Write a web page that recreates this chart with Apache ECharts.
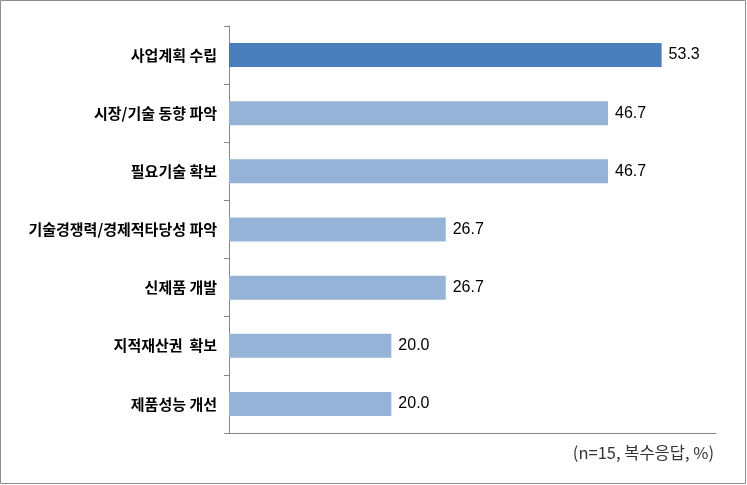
<!DOCTYPE html>
<html><head><meta charset="utf-8">
<script src="https://cdn.jsdelivr.net/npm/echarts@6/dist/echarts.min.js"></script>
<style>html,body{margin:0;padding:0;background:#fff}#c{width:747px;height:485px}</style>
</head><body><div id="c"></div>
<script>
const categories = ['사업계획 수립','시장/기술 동향 파악','필요기술 확보','기술경쟁력/경제적타당성 파악','신제품 개발','지적재산권  확보','제품성능 개선'];
const values = [53.3, 46.7, 46.7, 26.7, 26.7, 20.0, 20.0];
const note = '(n=15, 복수응답, %)';

const chart = echarts.init(document.getElementById('c'), null, {renderer:'canvas'});
const dark = '#4A7EBB', light = '#95B3D7';
chart.setOption({
  animation:false,
  grid:{left:229, right:31, top:26, bottom:52, containLabel:false},
  xAxis:{type:'value', min:0, max:60, show:true,
    axisLine:{show:false}, axisTick:{show:false}, axisLabel:{show:false}, splitLine:{show:false}},
  yAxis:{type:'category', data:categories, inverse:true,
    axisLine:{show:true, lineStyle:{color:'#868686', width:1}},
    axisTick:{show:true, length:5, inside:false, lineStyle:{color:'#868686'}},
    axisLabel:{margin:12, color:'#000', fontSize:15, fontWeight:'bold', fontFamily:'"Noto Sans CJK KR", sans-serif'}},
  series:[{type:'bar', barWidth:24,
    data: values.map((v,i)=>({value:v, itemStyle:{color: i===0?dark:light}})),
    label:{show:true, position:'right', distance:7, color:'#000', fontSize:16, fontFamily:'Arial, "Liberation Sans", sans-serif',
      formatter:p=>p.value.toFixed(1)}
  }],
  graphic:[
    {type:'rect', shape:{x:0.5,y:0.5,width:745,height:483}, style:{fill:'none', stroke:'#8c8c8c', lineWidth:1}, silent:true},
    {type:'line', shape:{x1:224,y1:433.5,x2:716,y2:433.5}, style:{stroke:'#868686', lineWidth:1}},
    {type:'text', right:33, top:444, style:{text:note, fill:'#333', fontSize:16.5, fontFamily:'"Noto Sans CJK KR", sans-serif'}}
  ]
});
</script></body></html>
